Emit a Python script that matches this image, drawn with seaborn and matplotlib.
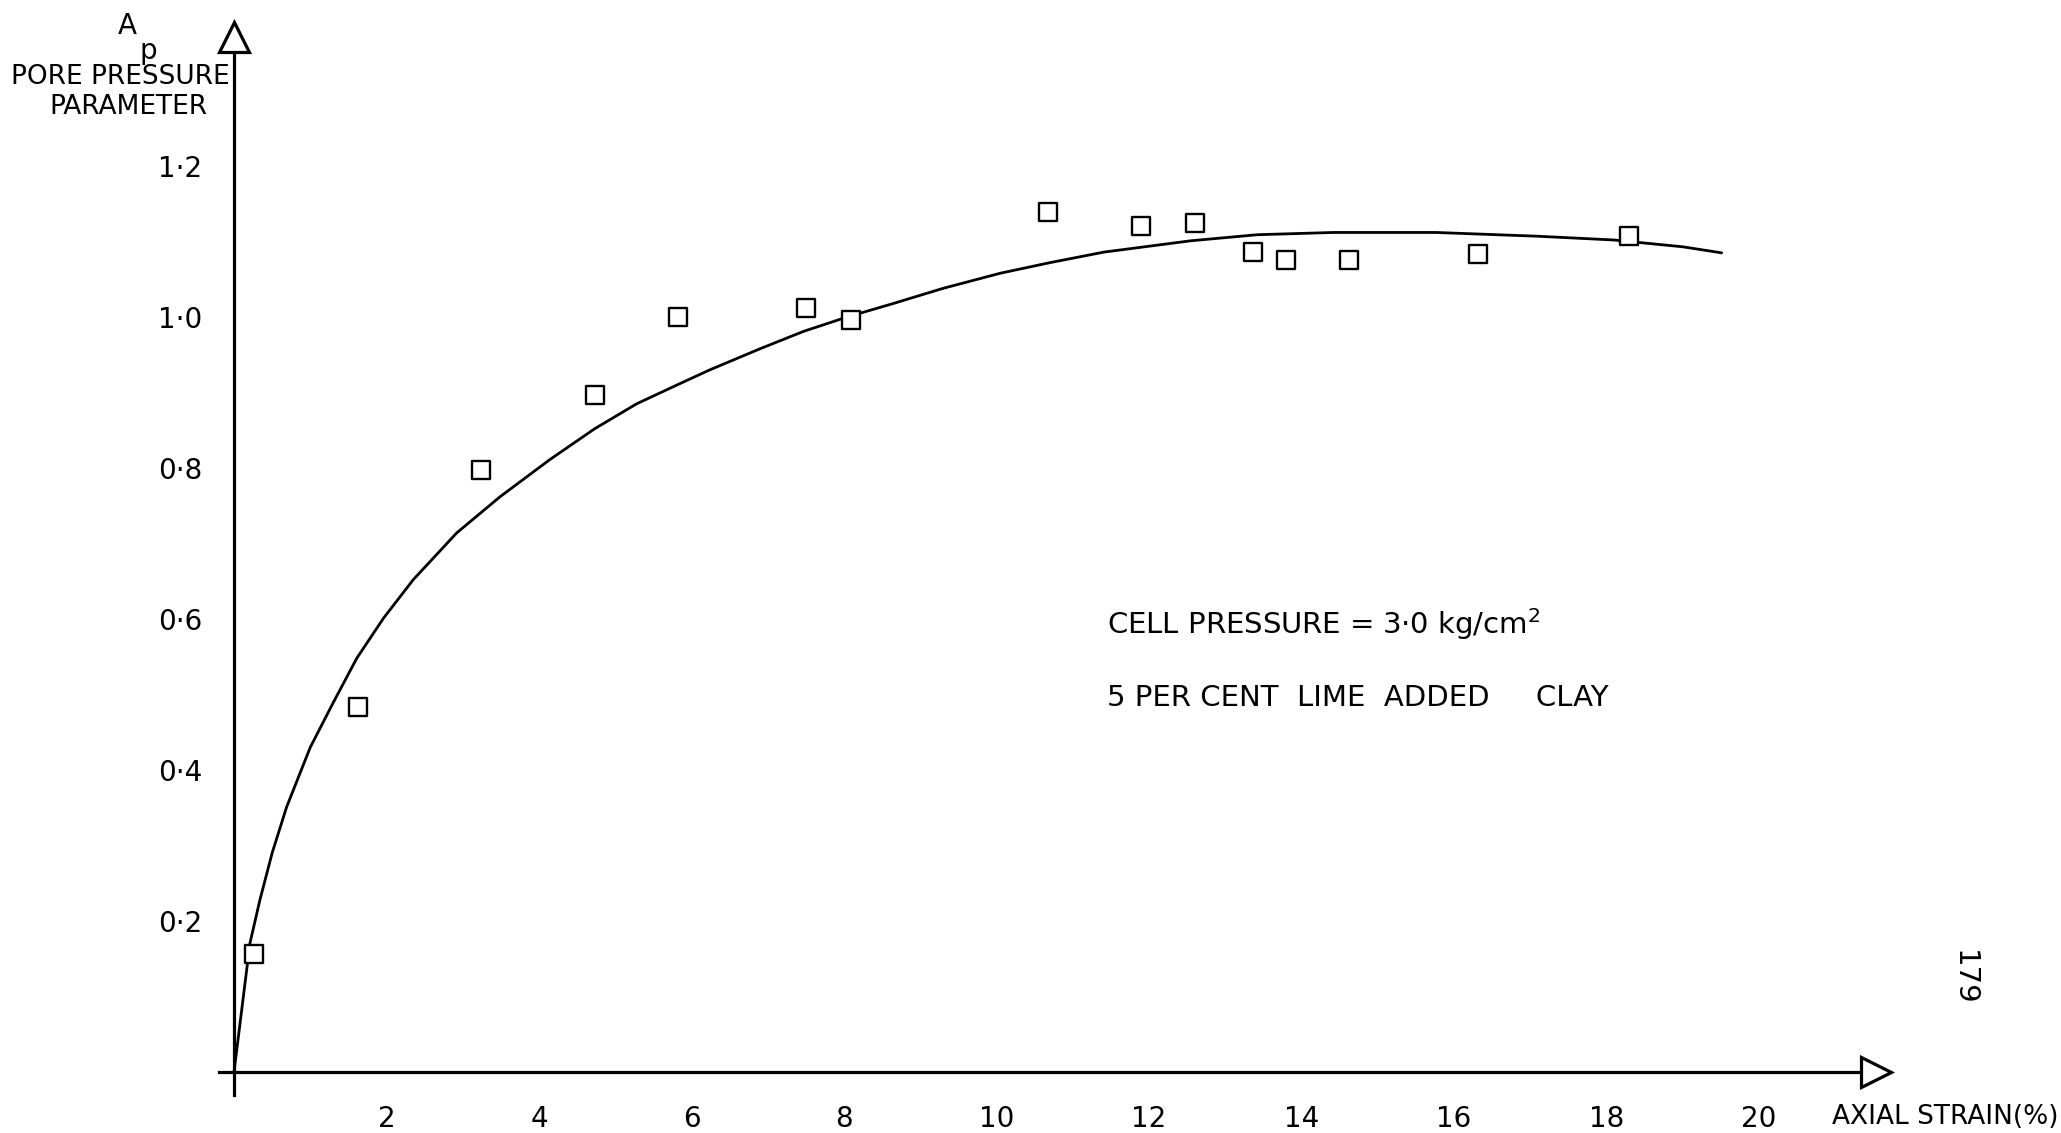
import matplotlib
matplotlib.use("Agg")
import matplotlib.pyplot as plt
import seaborn as sns
import pandas as pd

# Measured pore pressure parameter against axial strain
strain_pts = [0.26, 1.63, 3.24, 4.74, 5.82, 7.50, 8.09, 10.68, 11.89, 12.60,
              13.37, 13.80, 14.62, 16.32, 18.29]
ap_pts = [0.156, 0.483, 0.798, 0.897, 1.000, 1.012, 0.996, 1.139, 1.120, 1.125,
          1.086, 1.075, 1.075, 1.084, 1.107]

# Hand-fitted trend curve
curve_strain = [0.0, 0.21, 0.34, 0.50, 0.69, 1.00, 1.30, 1.61, 1.96, 2.35, 2.92,
                3.49, 4.14, 4.73, 5.28, 5.81, 6.24, 6.90, 7.47, 8.04, 8.65,
                9.30, 10.05, 10.70, 11.41, 12.55, 13.42, 14.42, 15.76, 17.10,
                18.10, 19.00, 19.51]
curve_ap = [0.0, 0.171, 0.228, 0.290, 0.351, 0.430, 0.489, 0.548, 0.601, 0.652,
            0.714, 0.762, 0.811, 0.852, 0.885, 0.910, 0.930, 0.958, 0.981,
            1.000, 1.018, 1.038, 1.058, 1.072, 1.086, 1.101, 1.109, 1.112,
            1.112, 1.107, 1.102, 1.093, 1.085]

x_ticks = [2, 4, 6, 8, 10, 12, 14, 16, 18, 20]
x_tick_labels = ["2", "4", "6", "8", "10", "12", "14", "16", "18", "20"]
y_ticks = [0.2, 0.4, 0.6, 0.8, 1.0, 1.2]
y_tick_labels = ["0·2", "0·4", "0·6", "0·8", "1·0", "1·2"]

points = pd.DataFrame({"strain": strain_pts, "ap": ap_pts})
curve = pd.DataFrame({"strain": curve_strain, "ap": curve_ap})

sns.set_theme(style="white")
plt.rcParams["font.family"] = ["DejaVu Sans"]

fig = plt.figure(figsize=(20.61, 11.33), dpi=100)
fig.patch.set_facecolor("white")
ax = fig.add_axes([0, 0, 1, 1])
ax.set_facecolor("white")

sns.lineplot(data=curve, x="strain", y="ap", sort=False, estimator=None,
             color="black", linewidth=2.0, ax=ax, zorder=2)
sns.scatterplot(data=points, x="strain", y="ap", marker="s", s=150,
                facecolor="white", edgecolor="black", linewidth=1.7,
                ax=ax, zorder=3)

ax.set_xlim(-3.069, 23.961)
ax.set_ylim(-0.0808, 1.4199)
ax.set_xlabel("")
ax.set_ylabel("")

# Axes drawn as crossing lines through the origin with open arrow heads
for side in ["top", "right"]:
    ax.spines[side].set_visible(False)
for side in ["left", "bottom"]:
    ax.spines[side].set_position(("data", 0))
    ax.spines[side].set_color("black")
    ax.spines[side].set_linewidth(2.3)
ax.spines["left"].set_bounds(-0.03, 1.353)
ax.spines["bottom"].set_bounds(-0.2, 21.36)

ax.plot([0], [1.371], marker="^", ms=22, mfc="white", mec="black", mew=2.3,
        clip_on=False, zorder=4)
ax.plot([21.53], [0.0], marker=">", ms=21, mfc="white", mec="black", mew=2.3,
        clip_on=False, zorder=4)

ax.set_xticks(x_ticks)
ax.set_xticklabels(x_tick_labels)
ax.set_yticks(y_ticks)
ax.set_yticklabels(y_tick_labels)
ax.tick_params(axis="both", direction="inout", length=12, width=2,
               colors="black", labelsize=20)
ax.tick_params(axis="x", pad=18)
ax.tick_params(axis="y", pad=17)

# Axis titles
ax.text(20.96, -0.0596, "AXIAL STRAIN(%)", fontsize=19, ha="left", va="center",
        color="black")
ax.text(-1.403, 1.386, "A", fontsize=20, ha="center", va="center", color="black")
ax.text(-1.128, 1.353, "p", fontsize=20, ha="center", va="center", color="black")
ax.text(-1.495, 1.318, "PORE PRESSURE", fontsize=19, ha="center", va="center",
        color="black")
ax.text(-1.39, 1.278, "PARAMETER", fontsize=19, ha="center", va="center",
        color="black")

# Test conditions
ax.text(11.45, 0.593, "CELL PRESSURE = 3·0 kg/cm$^{2}$", fontsize=21,
        ha="left", va="center", color="black")
ax.text(11.45, 0.495, "5 PER CENT  LIME  ADDED     CLAY", fontsize=21,
        ha="left", va="center", color="black")

# Page number
ax.text(22.68, 0.125, "179", fontsize=21, rotation=-90, ha="center",
        va="center", color="black")

fig.savefig("out.png", dpi=100)
